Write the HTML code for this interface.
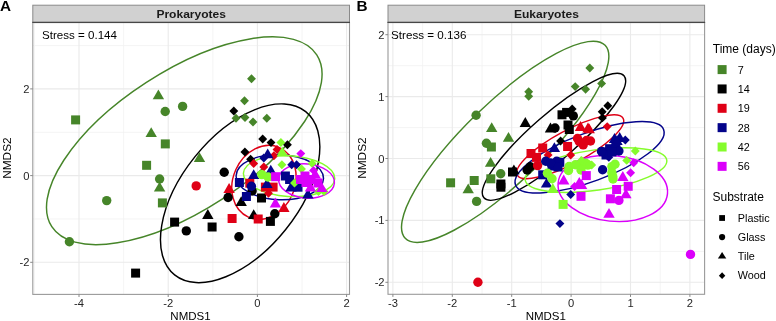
<!DOCTYPE html>
<html><head><meta charset="utf-8"><style>
html,body{margin:0;padding:0;background:#fff;}
body{width:776px;height:321px;overflow:hidden;font-family:"Liberation Sans",sans-serif;}
svg{display:block;will-change:transform;}
svg text{font-family:"Liberation Sans",sans-serif;}
</style></head><body>
<svg width="776" height="321" viewBox="0 0 776 321">
<rect width="776" height="321" fill="#fff"/>
<rect x="32.8" y="22.6" width="316.7" height="271.79999999999995" fill="#fff"/>
<line x1="34.40" y1="22.6" x2="34.40" y2="294.4" stroke="#f1f1f1" stroke-width="0.8"/>
<line x1="123.60" y1="22.6" x2="123.60" y2="294.4" stroke="#f1f1f1" stroke-width="0.8"/>
<line x1="212.80" y1="22.6" x2="212.80" y2="294.4" stroke="#f1f1f1" stroke-width="0.8"/>
<line x1="302.00" y1="22.6" x2="302.00" y2="294.4" stroke="#f1f1f1" stroke-width="0.8"/>
<line x1="32.8" y1="45.55" x2="349.5" y2="45.55" stroke="#f1f1f1" stroke-width="0.8"/>
<line x1="32.8" y1="132.25" x2="349.5" y2="132.25" stroke="#f1f1f1" stroke-width="0.8"/>
<line x1="32.8" y1="218.95" x2="349.5" y2="218.95" stroke="#f1f1f1" stroke-width="0.8"/>
<line x1="79.00" y1="22.6" x2="79.00" y2="294.4" stroke="#eaeaea" stroke-width="1.1"/>
<line x1="168.20" y1="22.6" x2="168.20" y2="294.4" stroke="#eaeaea" stroke-width="1.1"/>
<line x1="257.40" y1="22.6" x2="257.40" y2="294.4" stroke="#eaeaea" stroke-width="1.1"/>
<line x1="346.60" y1="22.6" x2="346.60" y2="294.4" stroke="#eaeaea" stroke-width="1.1"/>
<line x1="32.8" y1="88.90" x2="349.5" y2="88.90" stroke="#eaeaea" stroke-width="1.1"/>
<line x1="32.8" y1="175.60" x2="349.5" y2="175.60" stroke="#eaeaea" stroke-width="1.1"/>
<line x1="32.8" y1="262.30" x2="349.5" y2="262.30" stroke="#eaeaea" stroke-width="1.1"/>
<rect x="388.0" y="22.6" width="316.6" height="271.7" fill="#fff"/>
<line x1="422.60" y1="22.6" x2="422.60" y2="294.3" stroke="#f1f1f1" stroke-width="0.8"/>
<line x1="482.00" y1="22.6" x2="482.00" y2="294.3" stroke="#f1f1f1" stroke-width="0.8"/>
<line x1="541.40" y1="22.6" x2="541.40" y2="294.3" stroke="#f1f1f1" stroke-width="0.8"/>
<line x1="600.80" y1="22.6" x2="600.80" y2="294.3" stroke="#f1f1f1" stroke-width="0.8"/>
<line x1="660.20" y1="22.6" x2="660.20" y2="294.3" stroke="#f1f1f1" stroke-width="0.8"/>
<line x1="388.0" y1="65.65" x2="704.6" y2="65.65" stroke="#f1f1f1" stroke-width="0.8"/>
<line x1="388.0" y1="127.55" x2="704.6" y2="127.55" stroke="#f1f1f1" stroke-width="0.8"/>
<line x1="388.0" y1="189.45" x2="704.6" y2="189.45" stroke="#f1f1f1" stroke-width="0.8"/>
<line x1="388.0" y1="251.35" x2="704.6" y2="251.35" stroke="#f1f1f1" stroke-width="0.8"/>
<line x1="392.90" y1="22.6" x2="392.90" y2="294.3" stroke="#eaeaea" stroke-width="1.1"/>
<line x1="452.30" y1="22.6" x2="452.30" y2="294.3" stroke="#eaeaea" stroke-width="1.1"/>
<line x1="511.70" y1="22.6" x2="511.70" y2="294.3" stroke="#eaeaea" stroke-width="1.1"/>
<line x1="571.10" y1="22.6" x2="571.10" y2="294.3" stroke="#eaeaea" stroke-width="1.1"/>
<line x1="630.50" y1="22.6" x2="630.50" y2="294.3" stroke="#eaeaea" stroke-width="1.1"/>
<line x1="689.90" y1="22.6" x2="689.90" y2="294.3" stroke="#eaeaea" stroke-width="1.1"/>
<line x1="388.0" y1="34.70" x2="704.6" y2="34.70" stroke="#eaeaea" stroke-width="1.1"/>
<line x1="388.0" y1="96.60" x2="704.6" y2="96.60" stroke="#eaeaea" stroke-width="1.1"/>
<line x1="388.0" y1="158.50" x2="704.6" y2="158.50" stroke="#eaeaea" stroke-width="1.1"/>
<line x1="388.0" y1="220.40" x2="704.6" y2="220.40" stroke="#eaeaea" stroke-width="1.1"/>
<line x1="388.0" y1="282.30" x2="704.6" y2="282.30" stroke="#eaeaea" stroke-width="1.1"/>
<text x="42.0" y="39.0" font-size="11.4" text-anchor="start" fill="#000" font-weight="normal" textLength="75.0" lengthAdjust="spacingAndGlyphs" >Stress = 0.144</text>
<text x="391.1" y="38.7" font-size="11.4" text-anchor="start" fill="#000" font-weight="normal" textLength="75.3" lengthAdjust="spacingAndGlyphs" >Stress = 0.136</text>
<ellipse cx="184.28" cy="140.75" rx="157.93" ry="69.59" transform="rotate(147.02 184.28 140.75)" fill="none" stroke="#468529" stroke-width="1.45"/>
<ellipse cx="240.15" cy="193.28" rx="58.14" ry="104.69" transform="rotate(-141.24 240.15 193.28)" fill="none" stroke="#000000" stroke-width="1.45"/>
<ellipse cx="263.93" cy="182.35" rx="30.85" ry="38.00" transform="rotate(-155.91 263.93 182.35)" fill="none" stroke="#df0016" stroke-width="1.45"/>
<ellipse cx="279.80" cy="177.22" rx="22.55" ry="43.71" transform="rotate(92.01 279.80 177.22)" fill="none" stroke="#03038a" stroke-width="1.45"/>
<ellipse cx="289.07" cy="176.04" rx="20.41" ry="45.71" transform="rotate(93.62 289.07 176.04)" fill="none" stroke="#85fc2c" stroke-width="1.45"/>
<ellipse cx="306.50" cy="180.99" rx="17.09" ry="27.97" transform="rotate(94.60 306.50 180.99)" fill="none" stroke="#db00fb" stroke-width="1.45"/>
<ellipse cx="505.18" cy="141.83" rx="138.92" ry="39.70" transform="rotate(136.01 505.18 141.83)" fill="none" stroke="#468529" stroke-width="1.45"/>
<ellipse cx="553.97" cy="136.82" rx="92.87" ry="22.69" transform="rotate(138.94 553.97 136.82)" fill="none" stroke="#000000" stroke-width="1.45"/>
<ellipse cx="570.24" cy="146.73" rx="16.50" ry="60.04" transform="rotate(61.80 570.24 146.73)" fill="none" stroke="#df0016" stroke-width="1.45"/>
<ellipse cx="589.59" cy="157.30" rx="79.05" ry="24.15" transform="rotate(159.56 589.59 157.30)" fill="none" stroke="#03038a" stroke-width="1.45"/>
<ellipse cx="596.01" cy="170.10" rx="71.48" ry="20.18" transform="rotate(171.99 596.01 170.10)" fill="none" stroke="#85fc2c" stroke-width="1.45"/>
<ellipse cx="612.80" cy="188.40" rx="32.88" ry="54.94" transform="rotate(95.66 612.80 188.40)" fill="none" stroke="#db00fb" stroke-width="1.45"/>
<rect x="71.10" y="115.40" width="9.0" height="9.0" fill="#468529"/>
<polygon points="158.40,89.50 164.10,99.30 152.70,99.30" fill="#468529"/>
<circle cx="165.20" cy="111.50" r="4.7" fill="#468529"/>
<circle cx="182.60" cy="106.40" r="4.7" fill="#468529"/>
<polygon points="251.50,74.25 255.95,78.70 251.50,83.15 247.05,78.70" fill="#468529"/>
<polygon points="244.50,96.35 248.95,100.80 244.50,105.25 240.05,100.80" fill="#468529"/>
<circle cx="69.40" cy="241.80" r="4.7" fill="#468529"/>
<circle cx="106.70" cy="200.60" r="4.7" fill="#468529"/>
<rect x="142.10" y="160.80" width="9.0" height="9.0" fill="#468529"/>
<circle cx="159.60" cy="179.00" r="4.7" fill="#468529"/>
<polygon points="159.60,181.70 165.30,191.50 153.90,191.50" fill="#468529"/>
<rect x="157.90" y="198.40" width="9.0" height="9.0" fill="#468529"/>
<polygon points="151.20,127.30 156.90,137.10 145.50,137.10" fill="#468529"/>
<rect x="160.80" y="139.40" width="9.0" height="9.0" fill="#468529"/>
<polygon points="199.50,152.30 205.20,162.10 193.80,162.10" fill="#468529"/>
<polygon points="236.00,113.85 240.45,118.30 236.00,122.75 231.55,118.30" fill="#468529"/>
<polygon points="245.00,113.05 249.45,117.50 245.00,121.95 240.55,117.50" fill="#468529"/>
<polygon points="253.00,117.55 257.45,122.00 253.00,126.45 248.55,122.00" fill="#468529"/>
<polygon points="266.80,113.85 271.25,118.30 266.80,122.75 262.35,118.30" fill="#468529"/>
<polygon points="233.80,106.55 238.25,111.00 233.80,115.45 229.35,111.00" fill="#000000"/>
<polygon points="262.70,134.55 267.15,139.00 262.70,143.45 258.25,139.00" fill="#000000"/>
<polygon points="271.00,138.15 275.45,142.60 271.00,147.05 266.55,142.60" fill="#000000"/>
<polygon points="287.40,140.35 291.85,144.80 287.40,149.25 282.95,144.80" fill="#000000"/>
<polygon points="244.90,147.55 249.35,152.00 244.90,156.45 240.45,152.00" fill="#000000"/>
<polygon points="250.60,154.85 255.05,159.30 250.60,163.75 246.15,159.30" fill="#000000"/>
<circle cx="224.20" cy="172.20" r="4.7" fill="#000000"/>
<circle cx="228.10" cy="197.50" r="4.7" fill="#000000"/>
<circle cx="252.10" cy="191.00" r="4.7" fill="#000000"/>
<polygon points="241.20,196.20 246.90,206.00 235.50,206.00" fill="#000000"/>
<rect x="257.00" y="193.50" width="9.0" height="9.0" fill="#000000"/>
<polygon points="207.80,209.10 213.50,218.90 202.10,218.90" fill="#000000"/>
<polygon points="253.70,209.30 259.40,219.10 248.00,219.10" fill="#000000"/>
<circle cx="274.80" cy="213.70" r="4.7" fill="#000000"/>
<rect x="170.10" y="217.60" width="9.0" height="9.0" fill="#000000"/>
<circle cx="186.30" cy="230.90" r="4.7" fill="#000000"/>
<rect x="207.60" y="222.50" width="9.0" height="9.0" fill="#000000"/>
<circle cx="238.90" cy="236.70" r="4.7" fill="#000000"/>
<rect x="265.90" y="216.90" width="9.0" height="9.0" fill="#000000"/>
<rect x="131.10" y="268.60" width="9.0" height="9.0" fill="#000000"/>
<circle cx="196.20" cy="185.90" r="4.7" fill="#df0016"/>
<polygon points="253.70,159.05 258.15,163.50 253.70,167.95 249.25,163.50" fill="#df0016"/>
<polygon points="263.80,162.55 268.25,167.00 263.80,171.45 259.35,167.00" fill="#df0016"/>
<polygon points="273.90,151.25 278.35,155.70 273.90,160.15 269.45,155.70" fill="#df0016"/>
<polygon points="277.00,145.05 281.45,149.50 277.00,153.95 272.55,149.50" fill="#df0016"/>
<polygon points="229.10,183.10 234.80,192.90 223.40,192.90" fill="#df0016"/>
<rect x="245.30" y="178.70" width="9.0" height="9.0" fill="#df0016"/>
<rect x="260.90" y="182.60" width="9.0" height="9.0" fill="#df0016"/>
<polygon points="268.50,188.85 272.95,193.30 268.50,197.75 264.05,193.30" fill="#df0016"/>
<rect x="227.60" y="214.00" width="9.0" height="9.0" fill="#df0016"/>
<rect x="253.70" y="214.50" width="9.0" height="9.0" fill="#df0016"/>
<polygon points="283.90,202.10 289.60,211.90 278.20,211.90" fill="#df0016"/>
<rect x="268.60" y="182.60" width="9.0" height="9.0" fill="#df0016"/>
<polygon points="267.70,148.40 273.40,158.20 262.00,158.20" fill="#03038a"/>
<polygon points="263.80,153.55 268.25,158.00 263.80,162.45 259.35,158.00" fill="#03038a"/>
<polygon points="253.70,169.20 259.40,179.00 248.00,179.00" fill="#03038a"/>
<polygon points="270.80,164.80 276.50,174.60 265.10,174.60" fill="#03038a"/>
<rect x="234.90" y="178.00" width="9.0" height="9.0" fill="#03038a"/>
<circle cx="251.40" cy="186.30" r="4.7" fill="#03038a"/>
<rect x="241.90" y="192.00" width="9.0" height="9.0" fill="#03038a"/>
<polygon points="266.90,178.30 272.60,188.10 261.20,188.10" fill="#03038a"/>
<polygon points="291.70,160.35 296.15,164.80 291.70,169.25 287.25,164.80" fill="#03038a"/>
<polygon points="296.60,160.35 301.05,164.80 296.60,169.25 292.15,164.80" fill="#03038a"/>
<rect x="280.90" y="171.50" width="9.0" height="9.0" fill="#03038a"/>
<rect x="285.10" y="175.00" width="9.0" height="9.0" fill="#03038a"/>
<polygon points="291.00,181.60 296.70,191.40 285.30,191.40" fill="#03038a"/>
<polygon points="307.90,188.70 313.60,198.50 302.20,198.50" fill="#03038a"/>
<rect x="293.50" y="182.70" width="9.0" height="9.0" fill="#03038a"/>
<polygon points="280.90,138.05 285.35,142.50 280.90,146.95 276.45,142.50" fill="#85fc2c"/>
<polygon points="282.20,146.60 287.90,156.40 276.50,156.40" fill="#85fc2c"/>
<circle cx="261.80" cy="174.60" r="4.7" fill="#85fc2c"/>
<polygon points="281.90,160.35 286.35,164.80 281.90,169.25 277.45,164.80" fill="#85fc2c"/>
<polygon points="301.50,164.55 305.95,169.00 301.50,173.45 297.05,169.00" fill="#85fc2c"/>
<polygon points="312.10,158.95 316.55,163.40 312.10,167.85 307.65,163.40" fill="#85fc2c"/>
<polygon points="318.50,187.15 322.95,191.60 318.50,196.05 314.05,191.60" fill="#85fc2c"/>
<polygon points="324.00,187.15 328.45,191.60 324.00,196.05 319.55,191.60" fill="#85fc2c"/>
<circle cx="268.00" cy="177.00" r="4.7" fill="#85fc2c"/>
<polygon points="294.50,178.55 298.95,183.00 294.50,187.45 290.05,183.00" fill="#85fc2c"/>
<polygon points="300.80,149.15 305.25,153.60 300.80,158.05 296.35,153.60" fill="#db00fb"/>
<rect x="271.10" y="172.20" width="9.0" height="9.0" fill="#db00fb"/>
<polygon points="313.50,165.95 317.95,170.40 313.50,174.85 309.05,170.40" fill="#db00fb"/>
<rect x="296.00" y="175.00" width="9.0" height="9.0" fill="#db00fb"/>
<rect x="301.50" y="178.00" width="9.0" height="9.0" fill="#db00fb"/>
<rect x="300.50" y="171.50" width="9.0" height="9.0" fill="#db00fb"/>
<polygon points="315.20,168.80 320.90,178.60 309.50,178.60" fill="#db00fb"/>
<rect x="306.50" y="175.00" width="9.0" height="9.0" fill="#db00fb"/>
<rect x="313.50" y="178.50" width="9.0" height="9.0" fill="#db00fb"/>
<polygon points="321.80,182.30 327.50,192.10 316.10,192.10" fill="#db00fb"/>
<polygon points="310.50,181.60 316.20,191.40 304.80,191.40" fill="#db00fb"/>
<polygon points="275.40,197.60 281.10,207.40 269.70,207.40" fill="#db00fb"/>
<circle cx="476.10" cy="115.30" r="4.7" fill="#468529"/>
<polygon points="528.70,87.25 533.15,91.70 528.70,96.15 524.25,91.70" fill="#468529"/>
<polygon points="528.70,91.85 533.15,96.30 528.70,100.75 524.25,96.30" fill="#468529"/>
<polygon points="491.70,122.30 497.40,132.10 486.00,132.10" fill="#468529"/>
<polygon points="508.50,131.90 514.20,141.70 502.80,141.70" fill="#468529"/>
<circle cx="486.40" cy="143.20" r="4.7" fill="#468529"/>
<rect x="486.90" y="142.50" width="9.0" height="9.0" fill="#468529"/>
<polygon points="490.60,157.00 496.30,166.80 484.90,166.80" fill="#468529"/>
<circle cx="500.70" cy="173.80" r="4.7" fill="#468529"/>
<rect x="486.30" y="174.30" width="9.0" height="9.0" fill="#468529"/>
<rect x="469.70" y="176.00" width="9.0" height="9.0" fill="#468529"/>
<rect x="446.10" y="178.30" width="9.0" height="9.0" fill="#468529"/>
<polygon points="468.20,183.40 473.90,193.20 462.50,193.20" fill="#468529"/>
<circle cx="476.60" cy="201.40" r="4.7" fill="#468529"/>
<polygon points="589.80,63.55 594.25,68.00 589.80,72.45 585.35,68.00" fill="#468529"/>
<polygon points="575.20,82.15 579.65,86.60 575.20,91.05 570.75,86.60" fill="#468529"/>
<polygon points="585.60,84.75 590.05,89.20 585.60,93.65 581.15,89.20" fill="#468529"/>
<polygon points="601.60,79.05 606.05,83.50 601.60,87.95 597.15,83.50" fill="#468529"/>
<polygon points="525.30,117.10 531.00,126.90 519.60,126.90" fill="#000000"/>
<rect x="557.50" y="110.30" width="9.0" height="9.0" fill="#000000"/>
<rect x="562.10" y="107.90" width="9.0" height="9.0" fill="#000000"/>
<polygon points="572.20,104.45 576.65,108.90 572.20,113.35 567.75,108.90" fill="#000000"/>
<circle cx="573.30" cy="115.90" r="4.7" fill="#000000"/>
<polygon points="550.50,122.60 556.20,132.40 544.80,132.40" fill="#000000"/>
<circle cx="555.00" cy="128.00" r="4.7" fill="#000000"/>
<rect x="563.50" y="120.50" width="9.0" height="9.0" fill="#000000"/>
<rect x="564.80" y="125.00" width="9.0" height="9.0" fill="#000000"/>
<polygon points="560.60,136.55 565.05,141.00 560.60,145.45 556.15,141.00" fill="#000000"/>
<polygon points="607.80,101.35 612.25,105.80 607.80,110.25 603.35,105.80" fill="#000000"/>
<polygon points="602.20,107.35 606.65,111.80 602.20,116.25 597.75,111.80" fill="#000000"/>
<polygon points="602.40,113.45 606.85,117.90 602.40,122.35 597.95,117.90" fill="#000000"/>
<polygon points="513.90,164.40 519.60,174.20 508.20,174.20" fill="#000000"/>
<rect x="508.00" y="167.50" width="9.0" height="9.0" fill="#000000"/>
<circle cx="527.10" cy="170.00" r="4.7" fill="#000000"/>
<rect x="496.40" y="182.70" width="9.0" height="9.0" fill="#000000"/>
<circle cx="530.20" cy="166.70" r="4.7" fill="#000000"/>
<rect x="496.40" y="179.50" width="9.0" height="9.0" fill="#000000"/>
<circle cx="477.90" cy="282.30" r="4.7" fill="#df0016"/>
<polygon points="580.50,121.10 586.20,130.90 574.80,130.90" fill="#df0016"/>
<polygon points="588.00,122.60 593.70,132.40 582.30,132.40" fill="#df0016"/>
<polygon points="607.20,122.15 611.65,126.60 607.20,131.05 602.75,126.60" fill="#df0016"/>
<rect x="538.20" y="143.50" width="9.0" height="9.0" fill="#df0016"/>
<rect x="526.50" y="149.00" width="9.0" height="9.0" fill="#df0016"/>
<rect x="563.10" y="142.00" width="9.0" height="9.0" fill="#df0016"/>
<circle cx="579.30" cy="141.80" r="4.7" fill="#df0016"/>
<circle cx="583.20" cy="144.90" r="4.7" fill="#df0016"/>
<circle cx="586.50" cy="140.50" r="4.7" fill="#df0016"/>
<polygon points="548.10,150.55 552.55,155.00 548.10,159.45 543.65,155.00" fill="#df0016"/>
<polygon points="570.70,150.55 575.15,155.00 570.70,159.45 566.25,155.00" fill="#df0016"/>
<rect x="532.00" y="152.90" width="9.0" height="9.0" fill="#df0016"/>
<circle cx="537.60" cy="165.60" r="4.7" fill="#df0016"/>
<polygon points="589.20,123.40 594.90,133.20 583.50,133.20" fill="#df0016"/>
<circle cx="590.50" cy="141.00" r="4.7" fill="#df0016"/>
<circle cx="577.50" cy="138.50" r="4.7" fill="#df0016"/>
<polygon points="554.40,142.30 560.10,152.10 548.70,152.10" fill="#03038a"/>
<circle cx="545.80" cy="161.20" r="4.7" fill="#03038a"/>
<circle cx="556.70" cy="161.20" r="4.7" fill="#03038a"/>
<rect x="550.60" y="160.20" width="9.0" height="9.0" fill="#03038a"/>
<rect x="555.30" y="157.80" width="9.0" height="9.0" fill="#03038a"/>
<rect x="538.20" y="170.30" width="9.0" height="9.0" fill="#03038a"/>
<polygon points="546.60,177.70 552.30,187.50 540.90,187.50" fill="#03038a"/>
<polygon points="614.50,133.10 620.20,142.90 608.80,142.90" fill="#03038a"/>
<polygon points="619.70,132.10 625.40,141.90 614.00,141.90" fill="#03038a"/>
<polygon points="625.30,135.55 629.75,140.00 625.30,144.45 620.85,140.00" fill="#03038a"/>
<rect x="598.80" y="147.30" width="9.0" height="9.0" fill="#03038a"/>
<rect x="605.10" y="144.20" width="9.0" height="9.0" fill="#03038a"/>
<rect x="611.30" y="142.60" width="9.0" height="9.0" fill="#03038a"/>
<circle cx="618.90" cy="151.00" r="4.7" fill="#03038a"/>
<polygon points="608.80,152.75 613.25,157.20 608.80,161.65 604.35,157.20" fill="#03038a"/>
<circle cx="602.60" cy="169.70" r="4.7" fill="#03038a"/>
<polygon points="570.70,190.05 575.15,194.50 570.70,198.95 566.25,194.50" fill="#03038a"/>
<polygon points="559.90,219.15 564.35,223.60 559.90,228.05 555.45,223.60" fill="#03038a"/>
<rect x="547.50" y="161.50" width="9.0" height="9.0" fill="#03038a"/>
<rect x="553.50" y="162.50" width="9.0" height="9.0" fill="#03038a"/>
<circle cx="550.50" cy="163.00" r="4.7" fill="#03038a"/>
<rect x="601.50" y="150.50" width="9.0" height="9.0" fill="#03038a"/>
<rect x="607.50" y="147.50" width="9.0" height="9.0" fill="#03038a"/>
<circle cx="601.50" cy="151.50" r="4.7" fill="#03038a"/>
<polygon points="617.00,135.10 622.70,144.90 611.30,144.90" fill="#03038a"/>
<circle cx="569.10" cy="166.50" r="4.7" fill="#85fc2c"/>
<polygon points="580.80,156.30 586.50,166.10 575.10,166.10" fill="#85fc2c"/>
<circle cx="587.80" cy="165.10" r="4.7" fill="#85fc2c"/>
<circle cx="547.40" cy="173.20" r="4.7" fill="#85fc2c"/>
<circle cx="552.00" cy="178.70" r="4.7" fill="#85fc2c"/>
<polygon points="552.80,183.10 558.50,192.90 547.10,192.90" fill="#85fc2c"/>
<circle cx="575.40" cy="164.70" r="4.7" fill="#85fc2c"/>
<circle cx="585.50" cy="163.10" r="4.7" fill="#85fc2c"/>
<polygon points="635.30,146.55 639.75,151.00 635.30,155.45 630.85,151.00" fill="#85fc2c"/>
<polygon points="626.70,155.95 631.15,160.40 626.70,164.85 622.25,160.40" fill="#85fc2c"/>
<polygon points="581.60,155.95 586.05,160.40 581.60,164.85 577.15,160.40" fill="#85fc2c"/>
<polygon points="591.70,160.55 596.15,165.00 591.70,169.45 587.25,165.00" fill="#85fc2c"/>
<circle cx="611.90" cy="166.60" r="4.7" fill="#85fc2c"/>
<circle cx="615.00" cy="164.20" r="4.7" fill="#85fc2c"/>
<circle cx="611.90" cy="172.80" r="4.7" fill="#85fc2c"/>
<circle cx="612.70" cy="176.20" r="4.7" fill="#85fc2c"/>
<rect x="558.60" y="199.90" width="9.0" height="9.0" fill="#85fc2c"/>
<circle cx="568.50" cy="170.50" r="4.7" fill="#85fc2c"/>
<circle cx="581.00" cy="170.00" r="4.7" fill="#85fc2c"/>
<polygon points="589.50,160.05 593.95,164.50 589.50,168.95 585.05,164.50" fill="#85fc2c"/>
<circle cx="613.00" cy="179.00" r="4.7" fill="#85fc2c"/>
<polygon points="563.70,174.60 569.40,184.40 558.00,184.40" fill="#db00fb"/>
<polygon points="579.30,176.90 585.00,186.70 573.60,186.70" fill="#db00fb"/>
<polygon points="574.60,182.05 579.05,186.50 574.60,190.95 570.15,186.50" fill="#db00fb"/>
<rect x="581.80" y="171.10" width="9.0" height="9.0" fill="#db00fb"/>
<rect x="576.50" y="191.80" width="9.0" height="9.0" fill="#db00fb"/>
<polygon points="633.70,158.25 638.15,162.70 633.70,167.15 629.25,162.70" fill="#db00fb"/>
<polygon points="630.60,168.35 635.05,172.80 630.60,177.25 626.15,172.80" fill="#db00fb"/>
<polygon points="622.80,171.10 628.50,180.90 617.10,180.90" fill="#db00fb"/>
<polygon points="581.60,179.10 587.30,188.90 575.90,188.90" fill="#db00fb"/>
<polygon points="625.90,188.40 631.60,198.20 620.20,198.20" fill="#db00fb"/>
<rect x="612.10" y="185.00" width="9.0" height="9.0" fill="#db00fb"/>
<rect x="623.70" y="181.80" width="9.0" height="9.0" fill="#db00fb"/>
<rect x="605.90" y="194.30" width="9.0" height="9.0" fill="#db00fb"/>
<circle cx="618.90" cy="200.40" r="4.7" fill="#db00fb"/>
<polygon points="609.00,207.90 614.70,217.70 603.30,217.70" fill="#db00fb"/>
<circle cx="690.50" cy="254.40" r="4.7" fill="#db00fb"/>
<rect x="32.8" y="22.6" width="316.7" height="271.79999999999995" fill="none" stroke="#9a9a9a" stroke-width="1.1"/>
<rect x="388.0" y="22.6" width="316.6" height="271.7" fill="none" stroke="#9a9a9a" stroke-width="1.1"/>
<rect x="32.8" y="5.2" width="316.7" height="17.2" fill="#d1d1d1" stroke="#8a8a8a" stroke-width="1"/>
<line x1="32.3" y1="22.4" x2="350.0" y2="22.4" stroke="#474747" stroke-width="1.1"/>
<text x="191.2" y="17.9" font-size="11.7" text-anchor="middle" fill="#1a1a1a" font-weight="bold" textLength="69.6" lengthAdjust="spacingAndGlyphs" >Prokaryotes</text>
<rect x="388.0" y="5.2" width="316.6" height="17.2" fill="#d1d1d1" stroke="#8a8a8a" stroke-width="1"/>
<line x1="387.5" y1="22.4" x2="705.1" y2="22.4" stroke="#474747" stroke-width="1.1"/>
<text x="546.4" y="17.9" font-size="11.7" text-anchor="middle" fill="#1a1a1a" font-weight="bold" textLength="65.0" lengthAdjust="spacingAndGlyphs" >Eukaryotes</text>
<line x1="30.199999999999996" y1="88.90" x2="32.8" y2="88.90" stroke="#888" stroke-width="1"/>
<text x="29.5" y="92.8" font-size="11.2" text-anchor="end" fill="#262626" font-weight="normal" >2</text>
<line x1="30.199999999999996" y1="175.60" x2="32.8" y2="175.60" stroke="#888" stroke-width="1"/>
<text x="29.5" y="179.5" font-size="11.2" text-anchor="end" fill="#262626" font-weight="normal" >0</text>
<line x1="30.199999999999996" y1="262.30" x2="32.8" y2="262.30" stroke="#888" stroke-width="1"/>
<text x="29.5" y="266.2" font-size="11.2" text-anchor="end" fill="#262626" font-weight="normal" >-2</text>
<line x1="79.00" y1="294.4" x2="79.00" y2="297.0" stroke="#888" stroke-width="1"/>
<text x="79.00" y="307.4" font-size="11.2" text-anchor="middle" fill="#262626" font-weight="normal" >-4</text>
<line x1="168.20" y1="294.4" x2="168.20" y2="297.0" stroke="#888" stroke-width="1"/>
<text x="168.20" y="307.4" font-size="11.2" text-anchor="middle" fill="#262626" font-weight="normal" >-2</text>
<line x1="257.40" y1="294.4" x2="257.40" y2="297.0" stroke="#888" stroke-width="1"/>
<text x="257.40" y="307.4" font-size="11.2" text-anchor="middle" fill="#262626" font-weight="normal" >0</text>
<line x1="346.60" y1="294.4" x2="346.60" y2="297.0" stroke="#888" stroke-width="1"/>
<text x="346.60" y="307.4" font-size="11.2" text-anchor="middle" fill="#262626" font-weight="normal" >2</text>
<line x1="385.4" y1="34.70" x2="388.0" y2="34.70" stroke="#888" stroke-width="1"/>
<text x="384.6" y="38.7" font-size="11.2" text-anchor="end" fill="#262626" font-weight="normal" >2</text>
<line x1="385.4" y1="96.60" x2="388.0" y2="96.60" stroke="#888" stroke-width="1"/>
<text x="384.6" y="100.6" font-size="11.2" text-anchor="end" fill="#262626" font-weight="normal" >1</text>
<line x1="385.4" y1="158.50" x2="388.0" y2="158.50" stroke="#888" stroke-width="1"/>
<text x="384.6" y="162.5" font-size="11.2" text-anchor="end" fill="#262626" font-weight="normal" >0</text>
<line x1="385.4" y1="220.40" x2="388.0" y2="220.40" stroke="#888" stroke-width="1"/>
<text x="384.6" y="224.4" font-size="11.2" text-anchor="end" fill="#262626" font-weight="normal" >-1</text>
<line x1="385.4" y1="282.30" x2="388.0" y2="282.30" stroke="#888" stroke-width="1"/>
<text x="384.6" y="286.3" font-size="11.2" text-anchor="end" fill="#262626" font-weight="normal" >-2</text>
<line x1="392.90" y1="294.3" x2="392.90" y2="296.90000000000003" stroke="#888" stroke-width="1"/>
<text x="392.90" y="307.4" font-size="11.2" text-anchor="middle" fill="#262626" font-weight="normal" >-3</text>
<line x1="452.30" y1="294.3" x2="452.30" y2="296.90000000000003" stroke="#888" stroke-width="1"/>
<text x="452.30" y="307.4" font-size="11.2" text-anchor="middle" fill="#262626" font-weight="normal" >-2</text>
<line x1="511.70" y1="294.3" x2="511.70" y2="296.90000000000003" stroke="#888" stroke-width="1"/>
<text x="511.70" y="307.4" font-size="11.2" text-anchor="middle" fill="#262626" font-weight="normal" >-1</text>
<line x1="571.10" y1="294.3" x2="571.10" y2="296.90000000000003" stroke="#888" stroke-width="1"/>
<text x="571.10" y="307.4" font-size="11.2" text-anchor="middle" fill="#262626" font-weight="normal" >0</text>
<line x1="630.50" y1="294.3" x2="630.50" y2="296.90000000000003" stroke="#888" stroke-width="1"/>
<text x="630.50" y="307.4" font-size="11.2" text-anchor="middle" fill="#262626" font-weight="normal" >1</text>
<line x1="689.90" y1="294.3" x2="689.90" y2="296.90000000000003" stroke="#888" stroke-width="1"/>
<text x="689.90" y="307.4" font-size="11.2" text-anchor="middle" fill="#262626" font-weight="normal" >2</text>
<text x="190.5" y="319.6" font-size="11.5" text-anchor="middle" fill="#000" font-weight="normal" >NMDS1</text>
<text x="545.8" y="319.6" font-size="11.5" text-anchor="middle" fill="#000" font-weight="normal" >NMDS1</text>
<text x="0" y="0" font-size="11.5" text-anchor="middle" fill="#000" font-weight="normal" textLength="41.4" lengthAdjust="spacingAndGlyphs" transform="translate(10.8 158.1) rotate(-90)">NMDS2</text>
<text x="0" y="0" font-size="11.5" text-anchor="middle" fill="#000" font-weight="normal" textLength="41.4" lengthAdjust="spacingAndGlyphs" transform="translate(365.8 158.1) rotate(-90)">NMDS2</text>
<text x="0.1" y="11.3" font-size="15.3" text-anchor="start" fill="#000" font-weight="bold" >A</text>
<text x="356.6" y="10.8" font-size="15.3" text-anchor="start" fill="#000" font-weight="bold" >B</text>
<text x="712.8" y="53.2" font-size="12" text-anchor="start" fill="#000" font-weight="normal" >Time (days)</text>
<rect x="717.60" y="65.10" width="9" height="9" fill="#468529"/>
<text x="737.8" y="73.6" font-size="10.8" text-anchor="start" fill="#000" font-weight="normal" >7</text>
<rect x="717.60" y="84.45" width="9" height="9" fill="#000000"/>
<text x="737.8" y="92.94999999999999" font-size="10.8" text-anchor="start" fill="#000" font-weight="normal" >14</text>
<rect x="717.60" y="103.80" width="9" height="9" fill="#df0016"/>
<text x="737.8" y="112.3" font-size="10.8" text-anchor="start" fill="#000" font-weight="normal" >19</text>
<rect x="717.60" y="123.15" width="9" height="9" fill="#03038a"/>
<text x="737.8" y="131.65" font-size="10.8" text-anchor="start" fill="#000" font-weight="normal" >28</text>
<rect x="717.60" y="142.50" width="9" height="9" fill="#85fc2c"/>
<text x="737.8" y="151.0" font-size="10.8" text-anchor="start" fill="#000" font-weight="normal" >42</text>
<rect x="717.60" y="161.85" width="9" height="9" fill="#db00fb"/>
<text x="737.8" y="170.35" font-size="10.8" text-anchor="start" fill="#000" font-weight="normal" >56</text>
<text x="712.5" y="200.9" font-size="12" text-anchor="start" fill="#000" font-weight="normal" >Substrate</text>
<rect x="719.20" y="215.10" width="5.8" height="5.8" fill="#000"/>
<text x="737.8" y="222.0" font-size="10.8" text-anchor="start" fill="#000" font-weight="normal" >Plastic</text>
<circle cx="722.1" cy="237.10" r="3.1" fill="#000"/>
<text x="737.8" y="241.1" font-size="10.8" text-anchor="start" fill="#000" font-weight="normal" >Glass</text>
<polygon points="722.1,252.10 726.30,258.60 717.90,258.60" fill="#000"/>
<text x="737.8" y="260.2" font-size="10.8" text-anchor="start" fill="#000" font-weight="normal" >Tile</text>
<polygon points="722.1,272.30 725.30,275.70 722.1,279.10 718.90,275.70" fill="#000"/>
<text x="737.8" y="279.3" font-size="10.8" text-anchor="start" fill="#000" font-weight="normal" >Wood</text>
</svg>
</body></html>
